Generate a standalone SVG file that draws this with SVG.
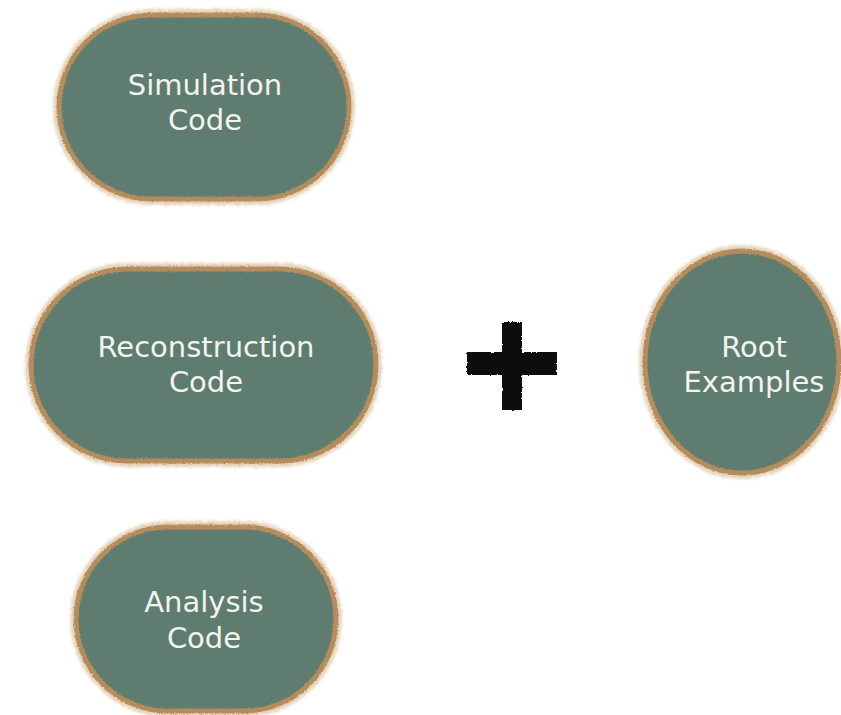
<svg xmlns="http://www.w3.org/2000/svg" width="841" height="715" viewBox="0 0 841 715">
  <defs>
    <filter id="rough" x="-10%" y="-10%" width="120%" height="120%">
      <feTurbulence type="fractalNoise" baseFrequency="0.9" numOctaves="2" seed="3" result="n"/>
      <feDisplacementMap in="SourceGraphic" in2="n" scale="3" xChannelSelector="R" yChannelSelector="G"/>
    </filter>
    <filter id="roughsoft" x="-10%" y="-10%" width="120%" height="120%">
      <feTurbulence type="fractalNoise" baseFrequency="0.5" numOctaves="2" seed="5" result="n"/>
      <feDisplacementMap in="SourceGraphic" in2="n" scale="2.5" xChannelSelector="R" yChannelSelector="G"/>
    </filter>
    <filter id="haze" x="-10%" y="-10%" width="120%" height="120%">
      <feTurbulence type="fractalNoise" baseFrequency="0.6" numOctaves="2" seed="7" result="n"/>
      <feDisplacementMap in="SourceGraphic" in2="n" scale="7" xChannelSelector="R" yChannelSelector="G" result="d"/>
      <feGaussianBlur in="d" stdDeviation="1"/>
    </filter>
  </defs>
  <style>
    .halo { fill: none; stroke: #dcc3a0; stroke-width: 10; opacity: 0.7; }
    .body { fill: #5f7c70; stroke: #b58d5c; stroke-width: 5; }
    .label { fill: #f4f4ee; font-family: "DejaVu Sans", "Liberation Sans", sans-serif; font-size: 29px; text-anchor: middle; }
    .plus { fill: #0d0d0d; }
  </style>
  <rect width="841" height="715" fill="#ffffff"/>

  <g id="simulation">
    <rect class="halo" x="58" y="14" width="292" height="186" rx="93" ry="93" filter="url(#haze)"/>
    <rect class="body" x="59" y="15" width="290" height="184" rx="92" ry="92" filter="url(#rough)"/>
    <text class="label" x="205" y="95">Simulation</text>
    <text class="label" x="205" y="130">Code</text>
  </g>

  <g id="reconstruction">
    <rect class="halo" x="30" y="268" width="347" height="194" rx="97" ry="97" filter="url(#haze)"/>
    <rect class="body" x="31" y="269" width="345" height="192" rx="96" ry="96" filter="url(#rough)"/>
    <text class="label" x="206" y="357">Reconstruction</text>
    <text class="label" x="206" y="392">Code</text>
  </g>

  <g id="analysis">
    <rect class="halo" x="75" y="526" width="262" height="186" rx="93" ry="93" filter="url(#haze)"/>
    <rect class="body" x="76" y="527" width="260" height="184" rx="92" ry="92" filter="url(#rough)"/>
    <text class="label" x="204" y="612">Analysis</text>
    <text class="label" x="204" y="648">Code</text>
  </g>

  <g id="plus" filter="url(#roughsoft)">
    <rect class="plus" x="467" y="352" width="90" height="23"/>
    <rect class="plus" x="502" y="322" width="20" height="88"/>
  </g>

  <g id="root-examples">
    <ellipse class="halo" cx="742" cy="362" rx="98" ry="112" filter="url(#haze)"/>
    <ellipse class="body" cx="742" cy="362" rx="97" ry="111" filter="url(#rough)"/>
    <text class="label" x="754" y="357">Root</text>
    <text class="label" x="754" y="392">Examples</text>
  </g>

  <g id="connectors"></g>
</svg>
